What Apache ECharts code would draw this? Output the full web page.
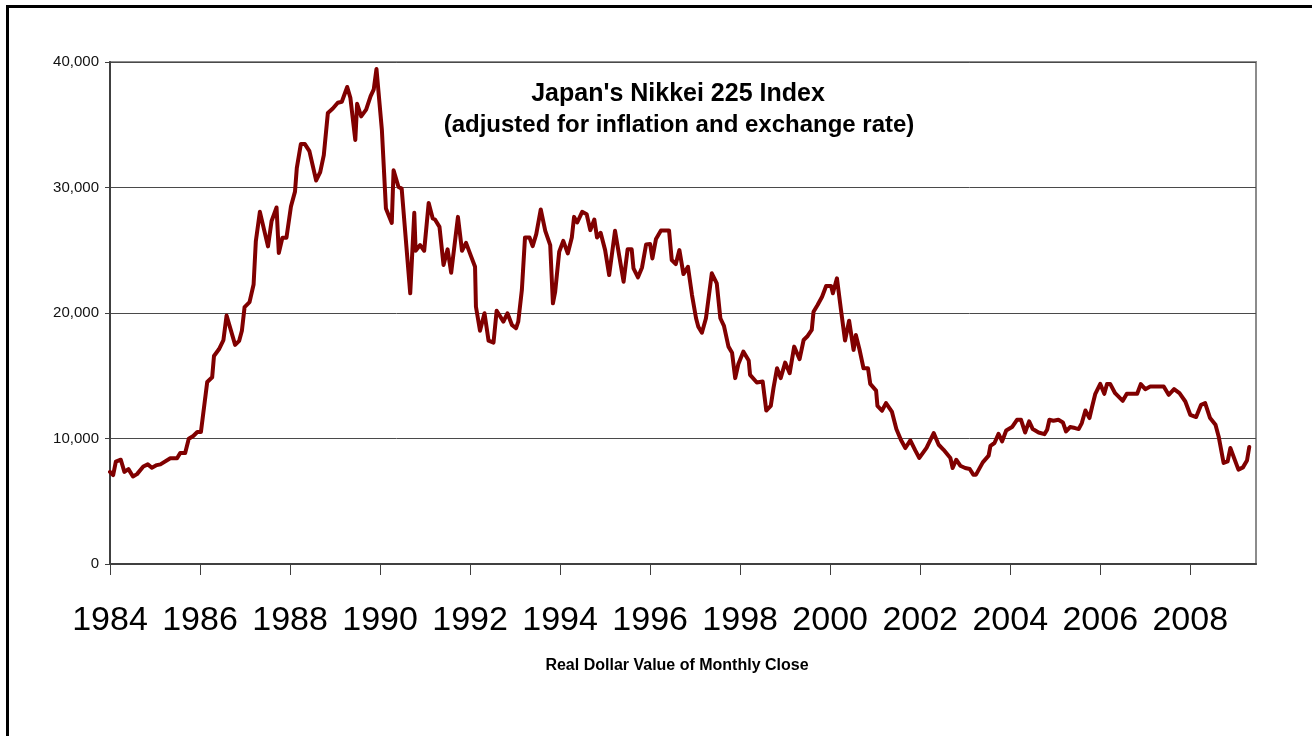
<!DOCTYPE html>
<html>
<head>
<meta charset="utf-8">
<script src="https://cdn.jsdelivr.net/npm/echarts@6/dist/echarts.min.js"></script>
<style>
  html, body { margin: 0; padding: 0; background: #ffffff; }
  #chart { width: 1312px; height: 736px; }
</style>
</head>
<body>
<div id="chart"></div>
<script>
// Time (decimal year) of each visible vertex of the line
var years = [
  1984.00, 1984.07, 1984.13, 1984.24, 1984.32, 1984.41, 1984.51, 1984.60, 1984.74, 1984.84,
  1984.93, 1985.04, 1985.12, 1985.34, 1985.49, 1985.56, 1985.67, 1985.75, 1985.85, 1985.94,
  1986.02, 1986.16, 1986.27, 1986.31, 1986.42, 1986.52, 1986.59, 1986.78, 1986.87, 1986.93,
  1986.99, 1987.10, 1987.19, 1987.24, 1987.33, 1987.51, 1987.59, 1987.70, 1987.75, 1987.83,
  1987.92, 1988.02, 1988.11, 1988.15, 1988.24, 1988.33, 1988.43, 1988.58, 1988.67, 1988.75,
  1988.84, 1988.95, 1989.06, 1989.15, 1989.27, 1989.34, 1989.45, 1989.49, 1989.58, 1989.69,
  1989.79, 1989.86, 1989.92, 1990.04, 1990.13, 1990.26, 1990.30, 1990.41, 1990.48, 1990.67,
  1990.76, 1990.79, 1990.89, 1990.98, 1991.08, 1991.17, 1991.22, 1991.32, 1991.41, 1991.50,
  1991.58, 1991.73, 1991.82, 1991.91, 1992.02, 1992.11, 1992.13, 1992.22, 1992.32, 1992.41,
  1992.52, 1992.59, 1992.74, 1992.83, 1992.93, 1993.02, 1993.07, 1993.15, 1993.22, 1993.32,
  1993.39, 1993.47, 1993.57, 1993.67, 1993.78, 1993.84, 1993.89, 1993.98, 1994.07, 1994.17,
  1994.26, 1994.31, 1994.38, 1994.49, 1994.59, 1994.67, 1994.76, 1994.82, 1994.90, 1995.00,
  1995.09, 1995.22, 1995.41, 1995.50, 1995.59, 1995.63, 1995.73, 1995.82, 1995.91, 1996.00,
  1996.05, 1996.13, 1996.24, 1996.42, 1996.48, 1996.57, 1996.65, 1996.74, 1996.84, 1996.93,
  1997.02, 1997.07, 1997.15, 1997.24, 1997.37, 1997.48, 1997.56, 1997.64, 1997.74, 1997.82,
  1997.89, 1997.96, 1998.07, 1998.19, 1998.22, 1998.37, 1998.41, 1998.50, 1998.58, 1998.68,
  1998.74, 1998.82, 1998.90, 1999.00, 1999.10, 1999.20, 1999.32, 1999.41, 1999.50, 1999.59,
  1999.63, 1999.72, 1999.82, 1999.91, 2000.02, 2000.06, 2000.15, 2000.24, 2000.33, 2000.42,
  2000.52, 2000.57, 2000.65, 2000.74, 2000.84, 2000.89, 2001.02, 2001.05, 2001.15, 2001.24,
  2001.37, 2001.47, 2001.57, 2001.67, 2001.78, 2001.89, 2001.98, 2002.14, 2002.30, 2002.41,
  2002.52, 2002.67, 2002.72, 2002.80, 2002.89, 2003.00, 2003.10, 2003.18, 2003.24, 2003.39,
  2003.52, 2003.56, 2003.65, 2003.74, 2003.82, 2003.91, 2004.04, 2004.15, 2004.24, 2004.33,
  2004.42, 2004.50, 2004.63, 2004.76, 2004.82, 2004.87, 2004.96, 2005.07, 2005.17, 2005.24,
  2005.33, 2005.44, 2005.52, 2005.59, 2005.67, 2005.76, 2005.82, 2005.89, 2006.00, 2006.09,
  2006.15, 2006.22, 2006.33, 2006.50, 2006.59, 2006.82, 2006.90, 2007.00, 2007.11, 2007.41,
  2007.52, 2007.64, 2007.76, 2007.89, 2008.00, 2008.13, 2008.24, 2008.33, 2008.44, 2008.56,
  2008.63, 2008.74, 2008.83, 2008.89, 2009.07, 2009.17, 2009.26, 2009.31
];

// Real dollar value of the monthly close at each vertex
var values = [
  7340, 7080, 8150, 8310, 7340, 7560, 6970, 7160, 7770, 7940,
  7670, 7880, 7940, 8420, 8420, 8850, 8850, 9980, 10200, 10520,
  10520, 14500, 14880, 16570, 17110, 17840, 19800, 17460, 17780, 18590,
  20470, 20870, 22270, 25720, 28060, 25310, 27330, 28410, 24780, 25990,
  25990, 28490, 29670, 31550, 33460, 33460, 32900, 30560, 31230, 32580,
  35940, 36290, 36750, 36830, 38010, 37150, 33790, 36670, 35670, 36210,
  37280, 37820, 39440, 34600, 28330, 27180, 31370, 30040, 29910, 21570,
  27980, 24960, 25410, 24960, 28770, 27530, 27450, 26860, 23820, 25070,
  23210, 27660, 24960, 25590, 24530, 23680, 20500, 18590, 19980, 17800,
  17640, 20180, 19310, 19980, 19050, 18780, 19310, 21830, 26020, 26020,
  25330, 26280, 28250, 26550, 25410, 20770, 21690, 24880, 25750, 24750,
  26020, 27660, 27210, 28060, 27870, 26600, 27450, 26020, 26390, 25010,
  23020, 26550, 22490, 25070, 25070, 23560, 22840, 23630, 25460, 25490,
  24350, 25900, 26570, 26570, 24220, 23900, 25010, 23100, 23680, 21430,
  19580, 18910, 18430, 19580, 23160, 22360, 19580, 18970, 17320, 16840,
  14810, 15940, 16920, 16210, 15070, 14460, 14410, 14540, 12230, 12600,
  14010, 15600, 14810, 16050, 15210, 17320, 16320, 17850, 18170, 18650,
  20100, 20640, 21300, 22150, 22150, 21570, 22760, 20240, 17800, 19390,
  17060, 18250, 17110, 15600, 15600, 14350, 13820, 12600, 12210, 12820,
  12150, 10750, 9900, 9240, 9850, 9050, 8450, 9250, 10430, 9500,
  9100, 8450, 7650, 8310, 7830, 7650, 7570, 7120, 7120, 8100,
  8630, 9420, 9640, 10380, 9770, 10640, 10910, 11490, 11490, 10480,
  11360, 10750, 10480, 10350, 10700, 11490, 11410, 11490, 11280, 10560,
  10910, 10830, 10750, 11230, 12230, 11630, 12550, 13560, 14350, 13560,
  14350, 14350, 13610, 13000, 13560, 13560, 14330, 13930, 14140, 14140,
  13480, 13930, 13610, 12950, 11890, 11710, 12680, 12820, 11630, 11090,
  10160, 8050, 8180, 9240, 7520, 7700, 8250, 9320
];

// Tick labels
var xTickYears = [1984, 1986, 1988, 1990, 1992, 1994, 1996, 1998, 2000, 2002, 2004, 2006, 2008];
var yTicks = [0, 10000, 20000, 30000, 40000];

var titleText = "Japan's Nikkei 225 Index";
var subtitleText = "(adjusted for inflation and exchange rate)";
var axisTitleText = "Real Dollar Value of Monthly Close";

var FONT = "Arial, 'Liberation Sans', Helvetica, sans-serif";

var chart = echarts.init(document.getElementById('chart'), null, { renderer: 'canvas' });

var seriesData = years.map(function (y, i) { return [y, values[i]]; });

var option = {
  backgroundColor: '#ffffff',
  animation: false,
  grid: {
    left: 110, right: 56, top: 62, bottom: 172,
    show: true,
    backgroundColor: '#ffffff',
    borderColor: '#8c8c8c',
    borderWidth: 2
  },
  xAxis: {
    type: 'value',
    min: 1984,
    max: 2009.46,
    interval: 2,
    axisLine: { show: true, onZero: false, lineStyle: { color: '#404040', width: 2 } },
    axisTick: {
      show: true, length: 11, inside: false,
      customValues: xTickYears,
      lineStyle: { color: '#404040', width: 1 }
    },
    axisLabel: {
      show: true,
      customValues: xTickYears,
      margin: 40,
      fontSize: 34,
      fontFamily: FONT,
      color: '#000000',
      showMinLabel: true,
      showMaxLabel: true,
      hideOverlap: false,
      formatter: function (v) {
        return xTickYears.indexOf(Math.round(v)) >= 0 && Math.abs(v - Math.round(v)) < 1e-6 ? String(Math.round(v)) : '';
      }
    },
    splitLine: { show: false }
  },
  yAxis: {
    type: 'value',
    min: 0,
    max: 40000,
    interval: 10000,
    axisLine: { show: true, lineStyle: { color: '#404040', width: 2 } },
    axisTick: { show: true, length: 5, inside: false, lineStyle: { color: '#404040', width: 1 } },
    axisLabel: {
      margin: 11,
      fontSize: 15,
      fontFamily: FONT,
      color: '#111111',
      formatter: function (v) { return v.toLocaleString('en-US'); }
    },
    splitLine: { show: true, lineStyle: { color: '#4a4a4a', width: 1 } }
  },
  series: [{
    type: 'line',
    data: seriesData,
    showSymbol: false,
    symbol: 'none',
    smooth: false,
    lineStyle: { color: '#800000', width: 4, join: 'round', cap: 'round' },
    itemStyle: { color: '#800000' },
    z: 5
  }],
  graphic: [
    {
      type: 'rect',
      silent: true,
      z: 100,
      shape: { x: 7.5, y: 6.5, width: 1400, height: 800 },
      style: { fill: 'none', stroke: '#000000', lineWidth: 3 }
    },
    {
      type: 'text',
      silent: true,
      z: 100,
      x: 678, y: 94,
      style: {
        text: titleText,
        font: 'bold 25px ' + FONT,
        fill: '#000000',
        align: 'center', verticalAlign: 'middle',
        textAlign: 'center', textVerticalAlign: 'middle'
      }
    },
    {
      type: 'text',
      silent: true,
      z: 100,
      x: 679, y: 125,
      style: {
        text: subtitleText,
        font: 'bold 24px ' + FONT,
        fill: '#000000',
        align: 'center', verticalAlign: 'middle',
        textAlign: 'center', textVerticalAlign: 'middle'
      }
    },
    {
      type: 'text',
      silent: true,
      z: 100,
      x: 677, y: 666,
      style: {
        text: axisTitleText,
        font: 'bold 16px ' + FONT,
        fill: '#000000',
        align: 'center', verticalAlign: 'middle',
        textAlign: 'center', textVerticalAlign: 'middle'
      }
    }
  ]
};

chart.setOption(option);
</script>
</body>
</html>
